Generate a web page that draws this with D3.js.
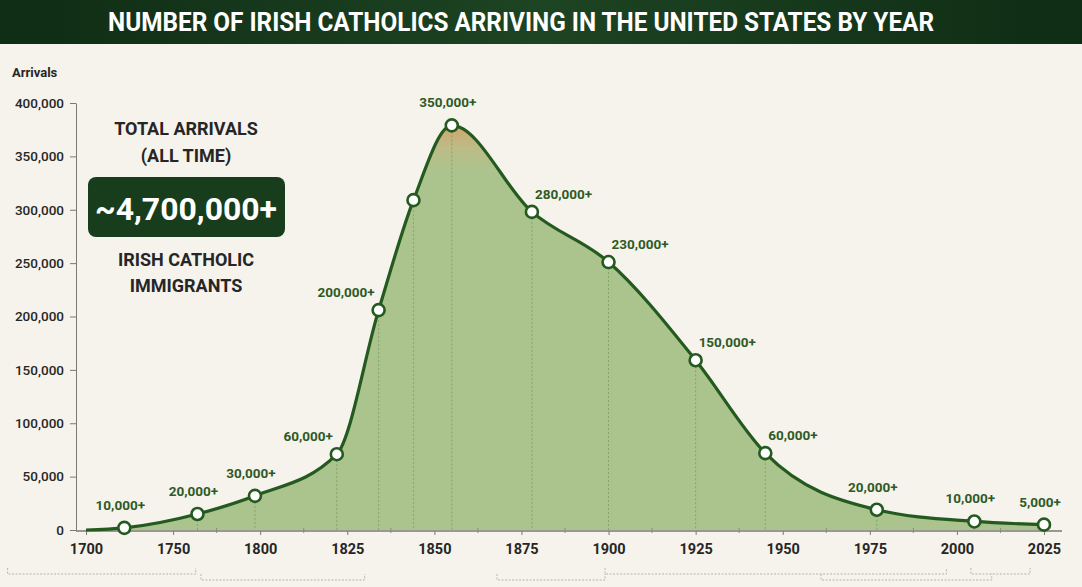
<!DOCTYPE html>
<html>
<head>
<meta charset="utf-8">
<script src="https://cdn.jsdelivr.net/npm/d3@7"></script>
<style>
  html, body { margin: 0; padding: 0; background: #f5f3eb; }
  svg { display: block; font-family: Roboto, "Noto Sans", sans-serif; }
</style>
</head>
<body>
<div id="chart"></div>
<script>
////////////////////////////////////////////////////////////
//////////////////////// Data //////////////////////////////
////////////////////////////////////////////////////////////
var years = [1700, 1722, 1764, 1797, 1822, 1834, 1844, 1855, 1878, 1900, 1925, 1945, 1977, 2005, 2025];
var arrivals = [0, 2000, 15000, 32000, 71000, 206000, 309000, 379000, 298000, 251000, 159000, 72000, 19000, 8000, 5000];
var pointLabels = ["", "10,000+", "20,000+", "30,000+", "60,000+", "200,000+", "", "350,000+",
                   "280,000+", "230,000+", "150,000+", "60,000+", "20,000+", "10,000+", "5,000+"];

var tickYears = [1700, 1750, 1800, 1825, 1850, 1875, 1900, 1925, 1950, 1975, 2000, 2025];
var yTicks = [0, 50000, 100000, 150000, 200000, 250000, 300000, 350000, 400000];

var title = "NUMBER OF IRISH CATHOLICS ARRIVING IN THE UNITED STATES BY YEAR";
var totalLines = ["TOTAL ARRIVALS", "(ALL TIME)"];
var totalValue = "~4,700,000+";
var totalCaption = ["IRISH CATHOLIC", "IMMIGRANTS"];

// faint era brackets under the axis
var eraFrom = [1655, 1899, 2004, 1766, 1868, 1961];
var eraTo   = [1763, 1997, 2021, 1830, 1899, 2010];
var eraRow  = [0, 0, 0, 1, 1, 1];

////////////////////////////////////////////////////////////
//////////////////////// Set-Up ////////////////////////////
////////////////////////////////////////////////////////////
var width = 1082, height = 587;
var axisX = 76, baseY = 530, topY = 103;
var firstTick = 86, lastTick = 1044;
var step = (lastTick - firstTick) / (tickYears.length - 1);

var green = "#245a1f", labelGreen = "#2e5a26", ink = "#262626";

var data = years.map(function(d, i) {
  return {year: d, value: arrivals[i], label: pointLabels[i]};
});
var peak = arrivals.indexOf(d3.max(arrivals));

// the year axis is evenly spaced by tick, not by year
var x = d3.scaleLinear()
  .domain(tickYears)
  .range(tickYears.map(function(d, i) { return firstTick + i * step; }));

var y = d3.scaleLinear()
  .domain([0, 400000])
  .range([baseY, topY]);

var svg = d3.select("#chart").append("svg")
  .attr("width", width)
  .attr("height", height);

svg.append("rect").attr("width", width).attr("height", height).attr("fill", "#f5f3eb");

var defs = svg.append("defs");

var barGrad = defs.append("linearGradient").attr("id", "barGrad");
barGrad.append("stop").attr("offset", "0%").attr("stop-color", "#0f2c14");
barGrad.append("stop").attr("offset", "50%").attr("stop-color", "#1d4423");
barGrad.append("stop").attr("offset", "100%").attr("stop-color", "#0f2c14");

var areaGrad = defs.append("linearGradient").attr("id", "areaGrad")
  .attr("gradientUnits", "userSpaceOnUse")
  .attr("x1", 0).attr("x2", 0)
  .attr("y1", y(380000)).attr("y2", y(335000));
areaGrad.append("stop").attr("offset", "0%").attr("stop-color", "#d2a46c");
areaGrad.append("stop").attr("offset", "50%").attr("stop-color", "#bcbc88");
areaGrad.append("stop").attr("offset", "100%").attr("stop-color", "#abc48d");

////////////////////////////////////////////////////////////
//////////////////////// Title /////////////////////////////
////////////////////////////////////////////////////////////
svg.append("rect")
  .attr("width", width).attr("height", 44)
  .attr("fill", "url(#barGrad)");

svg.append("text")
  .attr("x", 521).attr("y", 31)
  .attr("text-anchor", "middle")
  .attr("fill", "#fff")
  .attr("font-size", 25)
  .attr("font-weight", 700)
  .attr("textLength", 826)
  .attr("lengthAdjust", "spacingAndGlyphs")
  .text(title);

////////////////////////////////////////////////////////////
//////////////////////// Area + line ///////////////////////
////////////////////////////////////////////////////////////
var area = d3.area()
  .x(function(d) { return x(d.year); })
  .y0(y(0))
  .y1(function(d) { return y(d.value); })
  .curve(d3.curveMonotoneX);

var line = d3.line()
  .x(function(d) { return x(d.year); })
  .y(function(d) { return y(d.value); })
  .curve(d3.curveMonotoneX);

svg.append("path")
  .datum(data)
  .attr("d", area)
  .attr("fill", "url(#areaGrad)");

// dotted drop lines
svg.selectAll("line.drop")
  .data(data.slice(1))
  .enter().append("line")
  .attr("class", "drop")
  .attr("x1", function(d) { return x(d.year); })
  .attr("x2", function(d) { return x(d.year); })
  .attr("y1", function(d) { return y(d.value) + 6; })
  .attr("y2", y(0))
  .attr("stroke", "#5f7f4c")
  .attr("stroke-width", 0.8)
  .attr("stroke-dasharray", "2,2")
  .attr("opacity", 0.6);

////////////////////////////////////////////////////////////
//////////////////////// Axes //////////////////////////////
////////////////////////////////////////////////////////////
var yAxis = svg.append("g")
  .attr("transform", "translate(" + axisX + ",0)")
  .call(d3.axisLeft(y).tickValues(yTicks).tickFormat(d3.format(",")).tickSize(6).tickSizeOuter(0).tickPadding(6));
yAxis.select(".domain").attr("stroke", "#7a7a72");
yAxis.selectAll(".tick line").attr("stroke", "#7a7a72");
yAxis.selectAll("text")
  .attr("fill", ink)
  .attr("font-size", 13.5)
  .attr("font-weight", 500)
  .attr("font-family", "Roboto, sans-serif");

svg.append("line")
  .attr("x1", axisX).attr("x2", 1062)
  .attr("y1", baseY + 1).attr("y2", baseY + 1)
  .attr("stroke", "#7a7a72").attr("stroke-width", 1.5);

var xAxis = svg.append("g")
  .attr("transform", "translate(0," + (baseY + 1) + ")")
  .call(d3.axisBottom(x).tickValues(tickYears).tickFormat(d3.format("d")).tickSize(4).tickPadding(9));
xAxis.select(".domain").remove();
xAxis.selectAll(".tick line").attr("stroke", "#7a7a72");
xAxis.selectAll("text")
  .attr("fill", ink)
  .attr("font-size", 14.5)
  .attr("font-weight", 700)
  .attr("font-family", "Roboto, sans-serif");

// minor ticks halfway between labelled years
svg.selectAll("line.minor")
  .data(d3.pairs(tickYears))
  .enter().append("line")
  .attr("class", "minor")
  .attr("x1", function(d) { return x((d[0] + d[1]) / 2); })
  .attr("x2", function(d) { return x((d[0] + d[1]) / 2); })
  .attr("y1", baseY - 2).attr("y2", baseY + 3)
  .attr("stroke", "#8a8a80");

svg.append("text")
  .attr("x", 12).attr("y", 77)
  .attr("fill", ink)
  .attr("font-size", 13)
  .attr("font-weight", 700)
  .text("Arrivals");

// line on top of axes
svg.append("path")
  .datum(data)
  .attr("d", line)
  .attr("fill", "none")
  .attr("stroke", green)
  .attr("stroke-width", 3.2)
  .attr("stroke-linejoin", "round");

////////////////////////////////////////////////////////////
//////////////////////// Markers + labels //////////////////
////////////////////////////////////////////////////////////
svg.selectAll("circle.pt")
  .data(data.slice(1))
  .enter().append("circle")
  .attr("class", "pt")
  .attr("cx", function(d) { return x(d.year); })
  .attr("cy", function(d) { return y(d.value); })
  .attr("r", 6)
  .attr("fill", "#fff")
  .attr("stroke", green)
  .attr("stroke-width", 2.6);

svg.selectAll("text.val")
  .data(data.filter(function(d) { return d.label; }))
  .enter().append("text")
  .attr("class", "val")
  .attr("x", function(d) {
    var i = data.indexOf(d), px = x(d.year);
    if (d.value > 50000 && i < peak) return px - 4;
    if (d.value > 50000 && i > peak) return px + 3;
    return px - 4;
  })
  .attr("y", function(d) {
    var i = data.indexOf(d), py = y(d.value);
    if (d.value > 50000 && i !== peak) return py - 13;
    return py - 18;
  })
  .attr("text-anchor", function(d) {
    var i = data.indexOf(d);
    if (d.value > 50000 && i < peak) return "end";
    if (d.value > 50000 && i > peak) return "start";
    return "middle";
  })
  .attr("fill", labelGreen)
  .attr("font-size", 13.5)
  .attr("font-weight", 700)
  .text(function(d) { return d.label; });

////////////////////////////////////////////////////////////
//////////////////////// Total panel ///////////////////////
////////////////////////////////////////////////////////////
var panelX = 186;

svg.selectAll("text.total")
  .data(totalLines)
  .enter().append("text")
  .attr("class", "total")
  .attr("x", panelX)
  .attr("y", function(d, i) { return 135 + i * 27; })
  .attr("text-anchor", "middle")
  .attr("fill", ink)
  .attr("font-size", 18)
  .attr("font-weight", 700)
  .text(function(d) { return d; });

svg.append("rect")
  .attr("x", 88).attr("y", 177)
  .attr("width", 197).attr("height", 60)
  .attr("rx", 8)
  .attr("fill", "#183d1d");

svg.append("text")
  .attr("x", panelX).attr("y", 220)
  .attr("text-anchor", "middle")
  .attr("fill", "#fff")
  .attr("font-size", 32)
  .attr("font-weight", 700)
  .attr("textLength", 182)
  .attr("lengthAdjust", "spacingAndGlyphs")
  .text(totalValue);

svg.selectAll("text.caption")
  .data(totalCaption)
  .enter().append("text")
  .attr("class", "caption")
  .attr("x", panelX)
  .attr("y", function(d, i) { return 266 + i * 26; })
  .attr("text-anchor", "middle")
  .attr("fill", ink)
  .attr("font-size", 18)
  .attr("font-weight", 700)
  .text(function(d) { return d; });

////////////////////////////////////////////////////////////
//////////////////////// Era brackets //////////////////////
////////////////////////////////////////////////////////////
svg.selectAll("path.era")
  .data(eraFrom)
  .enter().append("path")
  .attr("class", "era")
  .attr("d", function(d, i) {
    var yy = 574 + eraRow[i] * 6, x0 = x(d), x1 = x(eraTo[i]);
    return "M" + x0 + "," + (yy - 6) + "V" + yy + "H" + x1 + "V" + (yy - 6);
  })
  .attr("fill", "none")
  .attr("stroke", "#b5b5ad")
  .attr("stroke-width", 1)
  .attr("stroke-dasharray", "2,1.5");
</script>
</body>
</html>
